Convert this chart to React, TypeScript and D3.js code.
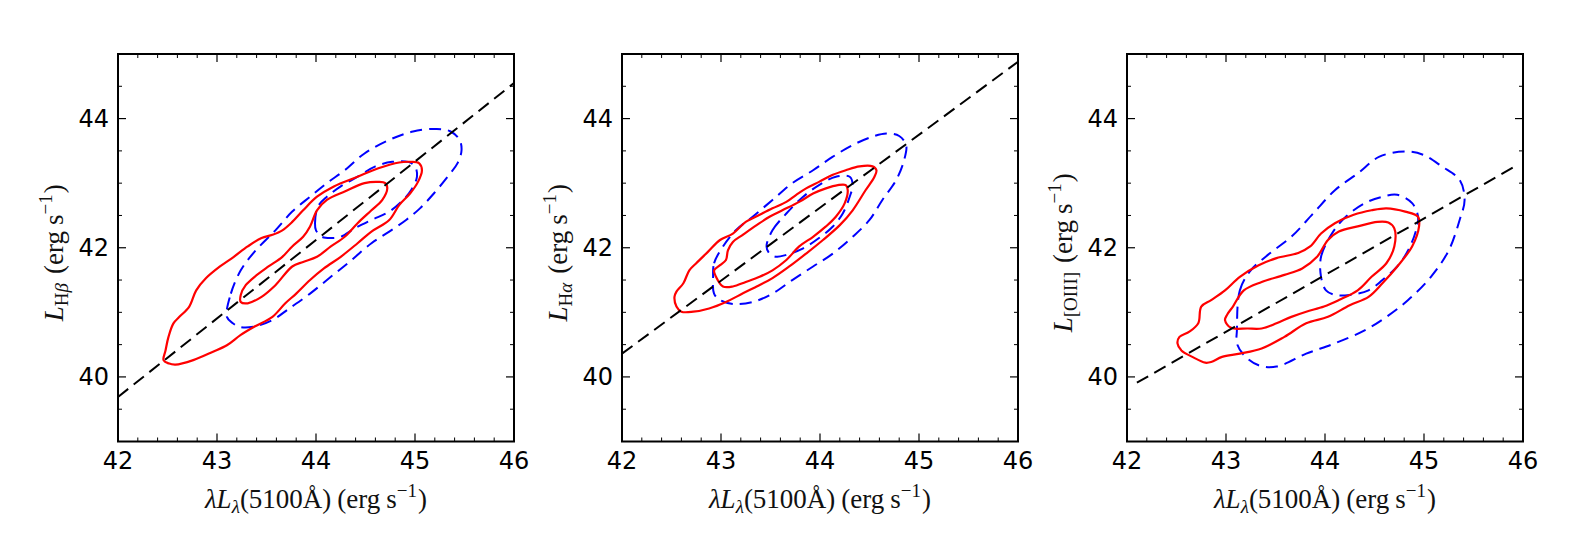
import * as d3 from "d3";

type Pt = [number, number];

const xMajor = [42, 43, 44, 45, 46];
const yMajor = [40, 42, 44];

// panel 1 : H beta
const hbRedOuter: Pt[] = [
  [42.46, 40.26], [42.51, 40.21], [42.58, 40.19], [42.76, 40.26], [42.96, 40.39], [43.1, 40.49],
  [43.24, 40.65], [43.38, 40.78], [43.56, 40.93], [43.69, 41.14], [43.8, 41.29], [43.94, 41.5],
  [44.08, 41.68], [44.25, 41.86], [44.42, 42.07], [44.56, 42.25], [44.74, 42.43], [44.84, 42.66],
  [44.95, 42.84], [45.03, 43.02], [45.07, 43.2], [45.04, 43.31], [44.96, 43.33], [44.84, 43.32],
  [44.63, 43.23], [44.42, 43.1], [44.18, 42.95], [44.01, 42.79], [43.87, 42.58], [43.76, 42.4],
  [43.66, 42.27], [43.56, 42.2], [43.45, 42.15], [43.31, 42.02], [43.17, 41.86], [43.03, 41.71],
  [42.89, 41.53], [42.79, 41.34], [42.72, 41.09], [42.62, 40.93], [42.56, 40.83], [42.51, 40.62],
  [42.48, 40.41],
];
const hbRedInner: Pt[] = [
  [43.24, 41.16], [43.31, 41.14], [43.45, 41.24], [43.59, 41.42], [43.76, 41.71], [43.87, 41.78],
  [44.01, 41.86], [44.15, 42.02], [44.29, 42.17], [44.42, 42.38], [44.56, 42.58], [44.67, 42.74],
  [44.72, 42.92], [44.7, 43.0], [44.63, 43.02], [44.49, 43.0], [44.29, 42.87], [44.11, 42.74],
  [44.01, 42.58], [43.94, 42.33], [43.87, 42.17], [43.76, 42.02], [43.66, 41.86], [43.52, 41.71],
  [43.38, 41.55], [43.29, 41.42], [43.24, 41.27],
];
const hbBlueOuter: Pt[] = [
  [43.1, 40.93], [43.14, 41.29], [43.24, 41.65], [43.38, 41.94], [43.59, 42.27], [43.76, 42.56],
  [43.94, 42.79], [44.11, 43.0], [44.29, 43.2], [44.49, 43.46], [44.74, 43.67], [44.98, 43.8],
  [45.22, 43.84], [45.36, 43.8], [45.45, 43.67], [45.47, 43.51], [45.43, 43.31], [45.33, 43.1],
  [45.19, 42.84], [45.05, 42.61], [44.91, 42.43], [44.74, 42.25], [44.56, 42.07], [44.36, 41.81],
  [44.15, 41.55], [43.94, 41.29], [43.73, 41.06], [43.56, 40.88], [43.38, 40.78], [43.24, 40.77],
  [43.16, 40.83],
];
const hbBlueInner: Pt[] = [
  [44.0, 42.27], [43.99, 42.38], [44.02, 42.64], [44.11, 42.79], [44.25, 42.95], [44.42, 43.1],
  [44.6, 43.26], [44.77, 43.33], [44.93, 43.33], [45.0, 43.26], [45.02, 43.1], [44.96, 42.89],
  [44.88, 42.74], [44.74, 42.56], [44.56, 42.43], [44.39, 42.3], [44.25, 42.17], [44.15, 42.15],
  [44.06, 42.17],
];
const hbFit: Pt[] = [[42, 39.69], [46, 44.55]];

// panel 2 : H alpha
const haRedOuter: Pt[] = [
  [42.53, 41.24], [42.55, 41.09], [42.6, 41.01], [42.72, 41.01], [42.88, 41.06], [43.05, 41.16],
  [43.19, 41.27], [43.36, 41.4], [43.52, 41.53], [43.69, 41.71], [43.86, 41.91], [44.03, 42.12],
  [44.2, 42.35], [44.33, 42.58], [44.46, 42.89], [44.55, 43.1], [44.57, 43.2], [44.53, 43.26],
  [44.4, 43.26], [44.26, 43.2], [44.13, 43.13], [43.99, 43.02], [43.86, 42.92], [43.76, 42.82],
  [43.66, 42.71], [43.52, 42.61], [43.39, 42.51], [43.25, 42.4], [43.12, 42.22], [42.99, 42.12],
  [42.87, 41.94], [42.75, 41.76], [42.68, 41.65], [42.62, 41.45], [42.55, 41.32],
];
const haRedInner: Pt[] = [
  [42.93, 41.65], [42.95, 41.55], [43.02, 41.4], [43.12, 41.4], [43.25, 41.47], [43.39, 41.55],
  [43.52, 41.65], [43.66, 41.81], [43.79, 42.02], [43.93, 42.17], [44.06, 42.33], [44.16, 42.48],
  [44.25, 42.69], [44.28, 42.89], [44.26, 42.97], [44.18, 42.97], [44.06, 42.92], [43.93, 42.84],
  [43.79, 42.71], [43.62, 42.58], [43.49, 42.48], [43.36, 42.35], [43.22, 42.2], [43.12, 42.09],
  [43.07, 41.96], [43.05, 41.81], [42.99, 41.73],
];
const haBlueOuter: Pt[] = [
  [42.92, 41.55], [42.93, 41.76], [43.02, 42.02], [43.15, 42.27], [43.32, 42.48], [43.52, 42.74],
  [43.72, 43.0], [43.93, 43.2], [44.13, 43.41], [44.33, 43.59], [44.53, 43.72], [44.67, 43.77],
  [44.8, 43.73], [44.87, 43.59], [44.85, 43.36], [44.77, 43.05], [44.63, 42.74], [44.5, 42.43],
  [44.33, 42.17], [44.13, 41.91], [43.93, 41.71], [43.72, 41.5], [43.52, 41.29], [43.32, 41.16],
  [43.12, 41.13], [42.99, 41.19], [42.93, 41.29],
];
const haBlueInner: Pt[] = [
  [43.46, 42.02], [43.52, 42.27], [43.66, 42.53], [43.83, 42.79], [43.99, 42.97], [44.16, 43.1],
  [44.3, 43.1], [44.33, 42.97], [44.3, 42.79], [44.23, 42.53], [44.13, 42.33], [43.99, 42.15],
  [43.83, 41.99], [43.66, 41.89], [43.56, 41.86], [43.49, 41.91],
];
const haFit: Pt[] = [[42, 40.36], [46, 44.88]];

// panel 3 : [OIII]
const o3RedOuter: Pt[] = [
  [42.51, 40.52], [42.55, 40.41], [42.66, 40.31], [42.79, 40.22], [42.85, 40.23], [42.96, 40.31],
  [43.14, 40.36], [43.36, 40.44], [43.59, 40.62], [43.81, 40.83], [44.03, 40.93], [44.25, 41.11],
  [44.44, 41.24], [44.58, 41.45], [44.73, 41.71], [44.88, 42.02], [44.95, 42.33], [44.94, 42.48],
  [44.81, 42.56], [44.62, 42.61], [44.47, 42.58], [44.29, 42.51], [44.1, 42.38], [43.96, 42.22],
  [43.85, 42.02], [43.73, 41.92], [43.51, 41.84], [43.33, 41.73], [43.14, 41.55], [42.99, 41.34],
  [42.85, 41.19], [42.75, 41.09], [42.72, 40.83], [42.63, 40.7], [42.53, 40.62],
];
const o3RedInner: Pt[] = [
  [42.99, 40.88], [43.05, 40.76], [43.22, 40.75], [43.36, 40.75], [43.51, 40.83], [43.66, 40.93],
  [43.81, 41.01], [43.99, 41.09], [44.14, 41.19], [44.33, 41.34], [44.47, 41.55], [44.62, 41.76],
  [44.7, 42.02], [44.7, 42.3], [44.64, 42.39], [44.53, 42.4], [44.33, 42.33], [44.14, 42.25],
  [44.03, 42.12], [43.92, 41.86], [43.77, 41.68], [43.59, 41.58], [43.36, 41.47], [43.18, 41.34],
  [43.07, 41.09], [43.01, 40.96],
];
const o3BlueOuter: Pt[] = [
  [43.11, 40.72], [43.14, 41.34], [43.25, 41.65], [43.44, 41.91], [43.66, 42.17], [43.88, 42.53],
  [44.1, 42.89], [44.33, 43.15], [44.55, 43.41], [44.81, 43.49], [44.99, 43.44], [45.18, 43.26],
  [45.36, 43.05], [45.41, 42.74], [45.36, 42.43], [45.25, 41.96], [45.07, 41.55], [44.84, 41.19],
  [44.62, 40.93], [44.4, 40.72], [44.1, 40.52], [43.81, 40.36], [43.51, 40.16], [43.33, 40.18],
  [43.18, 40.34], [43.11, 40.52],
];
const o3BlueInner: Pt[] = [
  [43.96, 41.55], [43.96, 41.86], [44.07, 42.22], [44.21, 42.48], [44.4, 42.69], [44.58, 42.79],
  [44.73, 42.82], [44.88, 42.69], [44.94, 42.48], [44.92, 42.27], [44.84, 41.96], [44.73, 41.71],
  [44.58, 41.5], [44.44, 41.34], [44.25, 41.27], [44.1, 41.27], [44.01, 41.34],
];
const o3Fit: Pt[] = [[42.1, 39.91], [45.93, 43.27]];

const panelLefts = [118, 622, 1127];
const PW = 396;
const PH = 387.5;
const TOP = 54;

const TICK_FONT = "DejaVu Sans";
const MATH_FONT = "Liberation Serif";
const LAB = 27;   // label font size
const SUB = 19;   // sub/superscript size

function YLabel({ sub, italicTail }: { sub: string; italicTail?: string }) {
  return (
    <>
      <tspan fontStyle="italic">L</tspan>
      <tspan fontSize={SUB} dy={5}>{sub}</tspan>
      {italicTail ? <tspan fontSize={SUB} fontStyle="italic">{italicTail}</tspan> : null}
      <tspan dy={-5} dx={9}>(erg</tspan>
      <tspan dx={6}>s</tspan>
      <tspan fontSize={SUB} dy={-11}>−1</tspan>
      <tspan dy={11} dx={1}>)</tspan>
    </>
  );
}

function Panel({ left, contours, fit, label }: {
  left: number;
  contours: { red: Pt[][]; blue: Pt[][] };
  fit: Pt[];
  label: any;
}) {
  const x = d3.scaleLinear().domain([42, 46]).range([left, left + PW]);
  const y = d3.scaleLinear().domain([39, 45]).range([TOP + PH, TOP]);
  const closed = d3.line<Pt>().x(d => x(d[0])).y(d => y(d[1])).curve(d3.curveCatmullRomClosed.alpha(0.5));
  const straight = d3.line<Pt>().x(d => x(d[0])).y(d => y(d[1]));
  const xMinor = x.ticks(20).filter(t => !xMajor.includes(t));
  const yMinor = y.ticks(12).filter(t => !yMajor.includes(t));
  const bottom = TOP + PH;
  const right = left + PW;
  const cx = left + PW / 2;

  return (
    <g>
      {contours.blue.map((c, i) => (
        <path key={"b" + i} d={closed(c) || ""} fill="none" stroke="#0000ff" strokeWidth={2} strokeDasharray="12 7" />
      ))}
      {contours.red.map((c, i) => (
        <path key={"r" + i} d={closed(c) || ""} fill="none" stroke="#ff0000" strokeWidth={2.2} />
      ))}
      <path d={straight(fit) || ""} fill="none" stroke="#000" strokeWidth={2} strokeDasharray="13 7" />

      {/* ticks, inward on all four sides */}
      {xMajor.map(t => (
        <g key={"xM" + t}>
          <line x1={x(t)} x2={x(t)} y1={bottom} y2={bottom - 8} stroke="#000" strokeWidth={1.2} />
          <line x1={x(t)} x2={x(t)} y1={TOP} y2={TOP + 8} stroke="#000" strokeWidth={1.2} />
          <text x={x(t)} y={bottom + 27.5} textAnchor="middle" fontFamily={TICK_FONT} fontSize={24}>{t}</text>
        </g>
      ))}
      {xMinor.map(t => (
        <g key={"xm" + t}>
          <line x1={x(t)} x2={x(t)} y1={bottom} y2={bottom - 4} stroke="#000" strokeWidth={1} />
          <line x1={x(t)} x2={x(t)} y1={TOP} y2={TOP + 4} stroke="#000" strokeWidth={1} />
        </g>
      ))}
      {yMajor.map(t => (
        <g key={"yM" + t}>
          <line x1={left} x2={left + 8} y1={y(t)} y2={y(t)} stroke="#000" strokeWidth={1.2} />
          <line x1={right} x2={right - 8} y1={y(t)} y2={y(t)} stroke="#000" strokeWidth={1.2} />
          <text x={left - 9} y={y(t) + 8.5} textAnchor="end" fontFamily={TICK_FONT} fontSize={24}>{t}</text>
        </g>
      ))}
      {yMinor.map(t => (
        <g key={"ym" + t}>
          <line x1={left} x2={left + 4} y1={y(t)} y2={y(t)} stroke="#000" strokeWidth={1} />
          <line x1={right} x2={right - 4} y1={y(t)} y2={y(t)} stroke="#000" strokeWidth={1} />
        </g>
      ))}
      <rect x={left} y={TOP} width={PW} height={PH} fill="none" stroke="#000" strokeWidth={2} />

      <text x={cx} y={508} textAnchor="middle" fontFamily={MATH_FONT} fontSize={LAB} fill="#111">
        <tspan fontStyle="italic">λL</tspan>
        <tspan fontStyle="italic" fontSize={SUB} dy={5}>λ</tspan>
        <tspan dy={-5}>(5100Å)</tspan>
        <tspan dx={6}>(erg</tspan>
        <tspan dx={6}>s</tspan>
        <tspan fontSize={SUB} dy={-11}>−1</tspan>
        <tspan dy={11} dx={1}>)</tspan>
      </text>
      <text transform={`translate(${left - 55},${TOP + PH / 2 + 5}) rotate(-90)`} textAnchor="middle"
        fontFamily={MATH_FONT} fontSize={LAB} fill="#111">
        {label}
      </text>
    </g>
  );
}

export default function App() {
  return (
    <svg width={1594} height={546} style={{ position: "absolute", left: 0, top: 0, background: "#fff" }}>
      <rect width={1594} height={546} fill="#fff" />
      <Panel left={panelLefts[0]} contours={{ red: [hbRedOuter, hbRedInner], blue: [hbBlueOuter, hbBlueInner] }}
        fit={hbFit} label={<YLabel sub="H" italicTail="β" />} />
      <Panel left={panelLefts[1]} contours={{ red: [haRedOuter, haRedInner], blue: [haBlueOuter, haBlueInner] }}
        fit={haFit} label={<YLabel sub="H" italicTail="α" />} />
      <Panel left={panelLefts[2]} contours={{ red: [o3RedOuter, o3RedInner], blue: [o3BlueOuter, o3BlueInner] }}
        fit={o3Fit} label={<YLabel sub="[OIII]" />} />
    </svg>
  );
}
